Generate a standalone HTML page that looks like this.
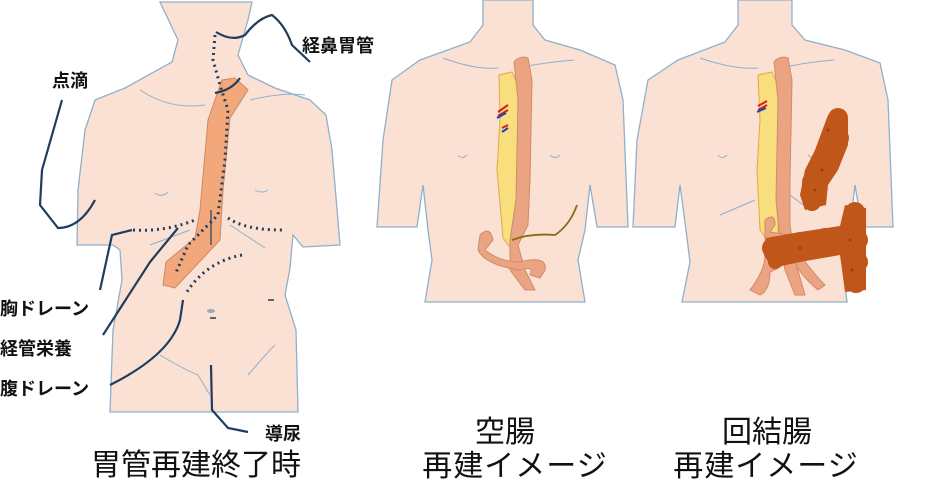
<!DOCTYPE html>
<html><head><meta charset="utf-8"><style>
body{margin:0;background:#fff;width:942px;height:480px;overflow:hidden}
svg{display:block}
text{font-family:"Liberation Sans","Noto Sans CJK JP",sans-serif;fill:#111}
</style></head><body>
<svg width="942" height="480" viewBox="0 0 942 480">
<g fill="#fbe1d3" stroke="#8fb0cc" stroke-width="1.3">
<path d="M160,2 L252,2 L248,20 L238,55 L248,75 L275,88 L310,100 L326,115 L332,150 L340,245 L303,247 L293,235 L290,268 L285,295 L296,330 L298,412 L110,412 L113,330 L122,280 L120,250 L113,245 L77,245 L78,190 L85,130 L95,100 L125,88 L172,62 L178,40 Z"/>
<path d="M483,0 L533,0 L533,25 L545,40 L580,50 L615,65 L623,100 L628,227 L597,227 L590,185 L585,230 L578,260 L585,302 L425,302 L432,260 L428,230 L423,185 L417,227 L377,227 L383,140 L392,80 L420,60 L470,42 L483,25 Z"/>
<path d="M738,0 L792,0 L792,25 L805,40 L845,50 L880,63 L888,100 L893,227 L862,227 L855,185 L850,230 L842,262 L847,302 L682,302 L690,262 L686,230 L680,185 L675,227 L633,227 L637,140 L648,80 L678,60 L725,42 L738,25 Z"/>
</g>
<g fill="none" stroke="#8fb0cc" stroke-width="1">
<path d="M140,90 Q170,110 205,105"/><path d="M250,100 Q285,92 305,95"/>
<path d="M155,193 Q162,198 168,192"/><path d="M255,190 Q262,194 268,190"/>
<path d="M160,355 Q185,370 198,375 L210,395 M248,375 Q265,355 275,345"/>
<path d="M190,230 L150,245 M230,225 L265,248"/>
<path d="M443,58 Q475,70 498,68 M527,66 Q550,62 574,60"/>
<path d="M458,155 Q462,160 467,155 M550,155 Q555,160 560,155"/>
<path d="M700,58 Q735,70 758,68 M790,66 Q810,62 834,60"/>
<path d="M718,155 Q722,160 727,155 M808,155 Q813,160 818,155"/>
<path d="M755,200 L720,215 M790,195 L810,210"/>
</g>
<path d="M222,80 L235,78 L248,90 L230,118 L223,190 L220,240 L175,288 L163,285 L166,262 L195,238 L200,210 L208,120 Z" fill="#f2a87a" stroke="#c88a66" stroke-width="1"/>
<g fill="none" stroke="#1f3d5e" stroke-width="3" stroke-dasharray="2,4">
<path d="M215,35 L213,60 L220,85 L228,110 L225,160 L218,215 L188,245 L175,275"/>
<path d="M133,230 Q165,232 195,220"/><path d="M228,218 Q245,230 282,230"/>
<path d="M242,255 Q205,262 185,295"/>
</g>
<g fill="none" stroke="#1f3d5e" stroke-width="2.2">
<path d="M62,100 L42,170 L40,205 L58,228 Q80,228 95,200"/>
<path d="M100,290 L112,235 L132,230"/>
<path d="M103,335 L150,262 L178,228"/>
<path d="M110,385 Q170,355 180,320 L183,300"/>
<path d="M211,365 L212,410 L228,428 L248,432"/>
<path d="M216,32 Q232,42 245,35 Q258,18 272,15 Q285,25 292,45 L310,62"/>
<path d="M215,93 Q232,90 240,78"/>
<path d="M211,210 L211,245" stroke-width="1.2"/>
<path d="M268,300 L274,300 M210,318 L216,318" stroke-width="1.5"/>
</g>
<ellipse cx="211" cy="311" rx="4" ry="2" fill="#9ab" />
<path d="M499,75 L512,72 L520,90 L518,240 L512,250 L503,238 L497,170 L500,120 Z" fill="#f9de7e" stroke="#e0a84a" stroke-width="1"/>
<path d="M514,62 Q520,55 528,58 L532,80 L530,180 L528,225 L518,245 L525,270 L535,290 L525,290 L510,270 L510,240 L516,200 L518,100 Z" fill="#eba482" stroke="#d08a6a" stroke-width="1"/>
<path d="M480,235 Q490,225 493,240 L485,250 Q500,262 520,262 Q548,255 545,270 L540,278 L530,275 Q535,265 520,270 Q485,265 478,250 Z" fill="#eba482" stroke="#d08a6a" stroke-width="1"/>
<path d="M512,240 Q530,233 555,235 Q570,225 577,205" fill="none" stroke="#8a6a10" stroke-width="1.8"/>
<path d="M498,112 L508,105 M498,116 L508,110 M502,128 L508,125" stroke="#d02020" stroke-width="2"/>
<path d="M497,118 L506,113 M502,132 L508,128" stroke="#2040c0" stroke-width="2"/>
<path d="M758,75 L772,72 L780,90 L778,240 L770,245 L760,230 L757,170 L760,120 Z" fill="#f9de7e" stroke="#e0a84a" stroke-width="1"/>
<path d="M774,62 Q780,55 788,58 L792,80 L790,180 L790,225 L795,260 L805,295 L795,295 L785,270 L780,240 L776,200 L778,100 Z" fill="#eba482" stroke="#d08a6a" stroke-width="1"/>
<path d="M765,220 Q775,212 775,225 L770,232 L790,235 Q800,260 770,272 Q770,290 760,295 L750,290 Q765,270 765,255 Z" fill="#eba482" stroke="#d08a6a" stroke-width="1"/>
<path d="M800,255 Q815,275 825,285 L818,290 Q800,275 795,262 Z" fill="#eba482" stroke="#d08a6a" stroke-width="1"/>
<path d="M758,106 L767,101 M758,110 L767,105" stroke="#d02020" stroke-width="2"/><path d="M757,112 L766,108" stroke="#2040c0" stroke-width="2"/>
<g fill="#c0561a">
<path d="M828,115 Q840,108 848,118 L848,145 L838,170 L828,185 L826,205 L805,210 L800,195 L805,170 L815,150 Z"/>
<path d="M845,205 L866,208 L866,290 L845,292 L840,255 L800,262 L772,268 L764,255 L766,238 L800,232 L840,226 Z"/>
<circle cx="838" cy="118" r="10"/><circle cx="840" cy="138" r="9"/><circle cx="825" cy="160" r="10"/><circle cx="812" cy="182" r="10"/><circle cx="812" cy="202" r="9"/>
<circle cx="855" cy="212" r="10"/><circle cx="858" cy="240" r="10"/><circle cx="858" cy="262" r="10"/><circle cx="856" cy="283" r="10"/><circle cx="772" cy="248" r="10"/><circle cx="775" cy="262" r="7"/><circle cx="800" cy="242" r="10"/><circle cx="825" cy="238" r="10"/>
</g>
<g fill="#9a4010"><circle cx="828" cy="130" r="1.5"/><circle cx="822" cy="170" r="1.5"/><circle cx="850" cy="240" r="1.5"/><circle cx="852" cy="270" r="1.5"/><circle cx="800" cy="248" r="1.5"/><circle cx="815" cy="190" r="1.5"/></g>
<text x="302" y="52" font-size="18" font-weight="bold">経鼻胃管</text>
<text x="52" y="87" font-size="18" font-weight="bold">点滴</text>
<text x="0" y="315" font-size="18" font-weight="bold">胸ドレーン</text>
<text x="0" y="355" font-size="18" font-weight="bold">経管栄養</text>
<text x="0" y="395" font-size="18" font-weight="bold">腹ドレーン</text>
<text x="265" y="440" font-size="18" font-weight="bold">導尿</text>
<text x="91" y="475" font-size="30">胃管再建終了時</text>
<text x="505" y="442" font-size="30" text-anchor="middle">空腸</text>
<text x="515" y="476" font-size="30" text-anchor="middle" letter-spacing="1">再建イメージ</text>
<text x="767" y="442" font-size="30" text-anchor="middle">回結腸</text>
<text x="766" y="476" font-size="30" text-anchor="middle" letter-spacing="1">再建イメージ</text>
</svg>
</body></html>
